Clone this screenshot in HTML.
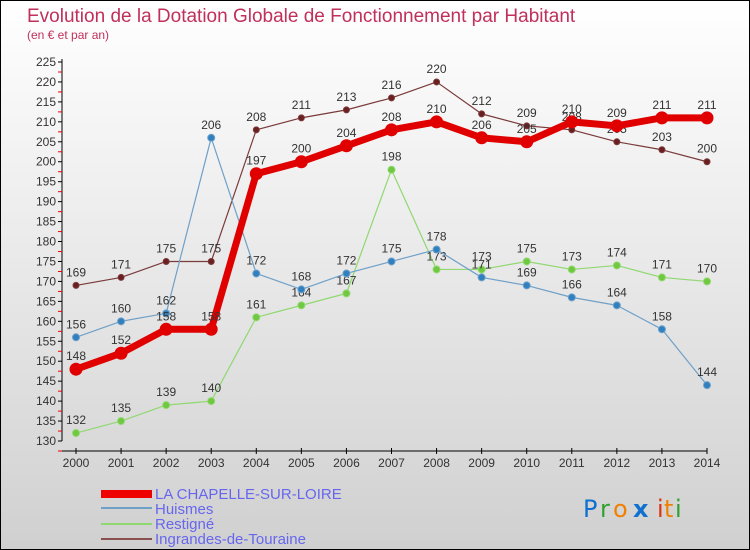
<!DOCTYPE html>
<html><head><meta charset="utf-8"><style>
body{margin:0}
#c{position:relative;width:748px;height:548px;border:1px solid #000;background:linear-gradient(#fff 0%,#e8e8e8 50%,#d0d0d0 100%);overflow:hidden;font-family:"Liberation Sans",sans-serif}
</style></head><body>
<div id="c">
<svg id="s" width="748" height="548" style="position:absolute;left:0;top:0">
<text x="26" y="21" font-size="19" fill="#c0305a">Evolution de la Dotation Globale de Fonctionnement par Habitant</text>
<text x="26" y="38" font-size="12" fill="#c0305a">(en € et par an)</text>
<g id="axes"></g><g id="series"></g>
<g>
<rect x="100" y="489" width="51" height="8" fill="#e00"/>
<text x="154" y="498" font-size="15" fill="#6666ee">LA CHAPELLE-SUR-LOIRE</text>
<rect x="100" y="506" width="51" height="2" fill="#6fa0c8"/>
<text x="154" y="513" font-size="15" fill="#6666ee">Huismes</text>
<rect x="100" y="522" width="51" height="2" fill="#90d870"/>
<text x="154" y="528" font-size="15" fill="#6666ee">Restigné</text>
<rect x="100" y="537" width="51" height="2" fill="#8a5050"/>
<text x="154" y="543" font-size="15" fill="#6666ee">Ingrandes-de-Touraine</text>
</g>
<g font-size="24" font-family="DejaVu Sans,sans-serif">
<text x="582" y="516" fill="#1070d0">P</text><text x="599" y="516" fill="#30a030">r</text><text x="612" y="516" fill="#f08000">o</text><text x="632" y="516" fill="#1070d0" font-weight="bold">x</text><text x="656" y="516" fill="#e03010">i</text><text x="663" y="516" fill="#f08000">t</text><text x="674" y="516" fill="#30a030">i</text>
</g>
</svg></div>
<script>
const years=[2000,2001,2002,2003,2004,2005,2006,2007,2008,2009,2010,2011,2012,2013,2014];
const chapelle=[148,152,158,158,197,200,204,208,210,206,205,210,209,211,211];
const huismes=[156,160,162,206,172,168,172,175,178,171,169,166,164,158,144];
const restigne=[132,135,139,140,161,164,167,198,173,173,175,173,174,171,170];
const ingrandes=[169,171,175,175,208,211,213,216,220,212,209,208,205,203,200];
const yTicks=[130,135,140,145,150,155,160,165,170,175,180,185,190,195,200,205,210,215,220,225];
const NS="http://www.w3.org/2000/svg";
function X(i){return 75+i*(706-75)/(years.length-1);}
function Y(v){return 440-(v-130)*(440-61)/95;}
function mk(t,a,p){const e=document.createElementNS(NS,t);for(const k in a)e.setAttribute(k,a[k]);p.appendChild(e);return e;}
const ax=document.getElementById('axes');
const yl=mk('line',{x1:61,y1:58,x2:61,y2:440,stroke:'#000'},ax);


yTicks.forEach(v=>{mk('line',{x1:57,x2:61,y1:Y(v),y2:Y(v),stroke:'#000'},ax);
 mk('line',{x1:57,x2:61,y1:Y(v)+10,y2:Y(v)+10,stroke:'#e00'},ax);
 const t=mk('text',{x:55,y:Y(v)+4,'font-size':12,fill:'#333','text-anchor':'end'},ax);t.textContent=v;
 
 });
const xl=mk('line',{x1:61,y1:450,x2:706,y2:450,stroke:'#000'},ax);


years.forEach((y,i)=>{mk('line',{x1:X(i),x2:X(i),y1:447,y2:453,stroke:'#000'},ax);
 const t=mk('text',{x:X(i),y:466,'font-size':12,fill:'#333','text-anchor':'middle'},ax);t.textContent=y;
 
 });
const sg=document.getElementById('series');
function draw(data,name,col,w,r,dot){
 const g=mk('g',{},sg);
 
 
 mk('polyline',{points:data.map((v,i)=>X(i)+','+Y(v)).join(' '),fill:'none',stroke:col,'stroke-width':w,'stroke-linejoin':'round'},g);
 data.forEach((v,i)=>{const c=mk('circle',{cx:X(i),cy:Y(v),r:r,fill:dot,stroke:col,'stroke-width':1},g);
  
  
  const t=mk('text',{x:X(i),y:Y(v)-9,'font-size':12,fill:'#333','text-anchor':'middle'},g);t.textContent=v;
  
  });
}
draw(ingrandes,'ingrandes','#7a3a3a',1.2,3,'#6a2020');
draw(restigne,'restigne','#90d870',1.2,3.5,'#70c840');
draw(huismes,'huismes','#6fa0c8',1.2,3.5,'#3080c0');
draw(chapelle,'chapelle','#e00000',7,6,'#e00000');
</script>
</body></html>
